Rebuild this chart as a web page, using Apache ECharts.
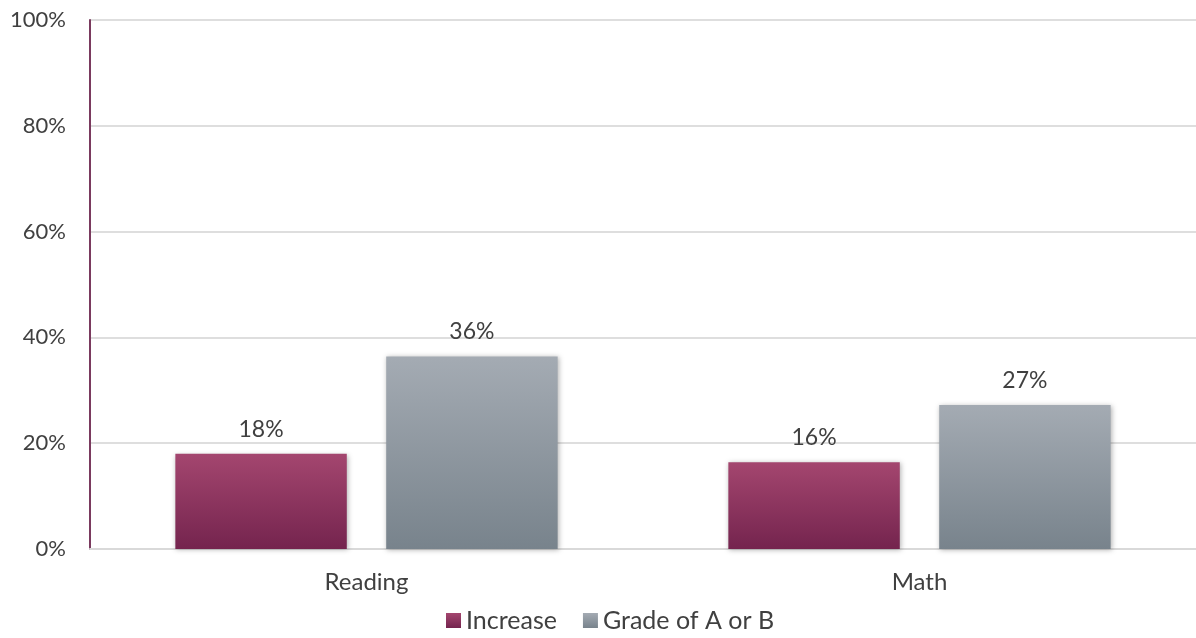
<!DOCTYPE html>
<html>
<head>
<meta charset="utf-8">
<script src="https://cdn.jsdelivr.net/npm/echarts@6/dist/echarts.min.js"></script>
<style>
  html, body { margin: 0; padding: 0; background: #fff; }
  #chart { width: 1196px; height: 638px; }
</style>
</head>
<body>
<div id="chart"></div>
<script>
// chart data
var categories = ['Reading', 'Math'];
var increaseValues = [18, 16.4];
var gradeValues = [36.4, 27.2];
var increaseLabels = ['18%', '16%'];
var gradeLabels = ['36%', '27%'];
var yTicks = [0, 20, 40, 60, 80, 100];

var chart = echarts.init(document.getElementById('chart'));

function grad(top, bottom) {
    return new echarts.graphic.LinearGradient(0, 0, 0, 1, [
        { offset: 0, color: top },
        { offset: 1, color: bottom }
    ]);
}

var textColor = '#404040';
var fontFamily = 'Lato, "Open Sans", sans-serif';

var option = {
    animation: false,
    textStyle: { fontFamily: fontFamily, color: textColor },
    grid: { left: 90, right: -10, top: 20, bottom: 89 },
    legend: {
        bottom: 0,
        left: 441,
        itemWidth: 15,
        itemHeight: 15,
        itemGap: 26,
        itemTextGap: 5,
        icon: 'rect',
        textStyle: { fontSize: 25, color: textColor, fontFamily: fontFamily },
        data: ['Increase', 'Grade of A or B']
    },
    xAxis: {
        type: 'category',
        data: categories,
        axisLine: { lineStyle: { color: '#d9d9d9', width: 2 } },
        axisTick: { show: false },
        axisLabel: { fontSize: 24, color: textColor, margin: 21 }
    },
    yAxis: {
        type: 'value',
        min: yTicks[0],
        max: yTicks[yTicks.length - 1],
        interval: 20,
        axisLine: { show: true, lineStyle: { color: '#7a3a5e', width: 2 } },
        axisTick: { show: false },
        splitLine: { lineStyle: { color: '#dedede', width: 2 } },
        axisLabel: {
            fontSize: 22, color: textColor, margin: 24,
            formatter: function (v) { return v + '%'; }
        }
    },
    series: [
        {
            name: 'Increase',
            type: 'bar',
            data: increaseValues,
            barWidth: '31%',
            barGap: '23%',
            itemStyle: {
                color: grad('#a4466f', '#74244e'),
                shadowColor: 'rgba(0,0,0,0.3)',
                shadowBlur: 5,
                shadowOffsetX: 1,
                shadowOffsetY: 1
            },
            label: {
                show: true, position: 'top', distance: 13,
                fontSize: 23, color: textColor,
                formatter: function (p) { return increaseLabels[p.dataIndex]; }
            }
        },
        {
            name: 'Grade of A or B',
            type: 'bar',
            data: gradeValues,
            barWidth: '31%',
            itemStyle: {
                color: grad('#a4abb3', '#78838c'),
                shadowColor: 'rgba(0,0,0,0.3)',
                shadowBlur: 5,
                shadowOffsetX: 1,
                shadowOffsetY: 1
            },
            label: {
                show: true, position: 'top', distance: 13,
                fontSize: 23, color: textColor,
                formatter: function (p) { return gradeLabels[p.dataIndex]; }
            }
        }
    ]
};

chart.setOption(option);
</script>
</body>
</html>
